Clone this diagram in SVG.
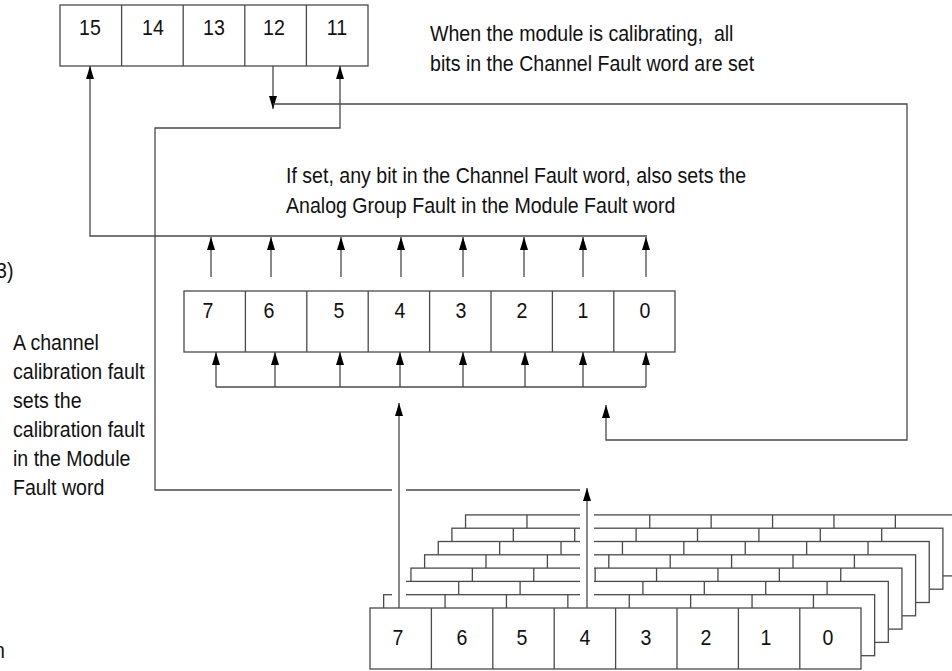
<svg xmlns="http://www.w3.org/2000/svg" xmlns:xlink="http://www.w3.org/1999/xlink" width="952" height="671" viewBox="0 0 952 671">
<style>
  .box { fill: #fff; stroke: #4a4a4a; stroke-width: 1.3; }
  .div { fill: none; stroke: #4a4a4a; stroke-width: 1.3; }
  .conn { fill: none; stroke: #4a4a4a; stroke-width: 1.3; }
  .halo { fill: none; stroke: #fff; stroke-width: 14; }
  text { font-family: "Liberation Sans", Arial, sans-serif; font-size: 22px; fill: #111; }
  .num { text-anchor: middle; }
</style>
<defs>
  <marker id="ah" viewBox="0 0 13 8" markerWidth="13" markerHeight="8" refX="13" refY="4" orient="auto" markerUnits="userSpaceOnUse">
    <path d="M0,0 L13,4 L0,8 z" fill="#000"/>
  </marker>
  <g id="word">
    <rect class="box" x="0" y="0" width="491" height="61"/>
    <path class="div" d="M61.4,0V61M122.8,0V61M184.2,0V61M245.6,0V61M307,0V61M368.4,0V61M429.8,0V61"/>
  </g>
</defs>
<rect width="952" height="671" fill="#fff"/>

<g id="module-fault-word">
  <rect class="box" x="60" y="5" width="308" height="61"/>
  <path class="div" d="M121.6,5V66M183.2,5V66M244.8,5V66M306.4,5V66"/>
  <text class="num" transform="translate(90,35) scale(0.89,1)">15</text>
  <text class="num" transform="translate(153,35) scale(0.89,1)">14</text>
  <text class="num" transform="translate(214,35) scale(0.89,1)">13</text>
  <text class="num" transform="translate(274,35) scale(0.89,1)">12</text>
  <text class="num" transform="translate(337,35) scale(0.89,1)">11</text>
</g>

<g id="channel-fault-word">
  <use xlink:href="#word" x="184" y="291"/>
  <text class="num" transform="translate(208,318) scale(0.89,1)">7</text>
  <text class="num" transform="translate(269,318) scale(0.89,1)">6</text>
  <text class="num" transform="translate(339,318) scale(0.89,1)">5</text>
  <text class="num" transform="translate(400,318) scale(0.89,1)">4</text>
  <text class="num" transform="translate(461,318) scale(0.89,1)">3</text>
  <text class="num" transform="translate(522,318) scale(0.89,1)">2</text>
  <text class="num" transform="translate(583,318) scale(0.89,1)">1</text>
  <text class="num" transform="translate(645,318) scale(0.89,1)">0</text>
</g>

<g id="channel-status-words">
  <use xlink:href="#word" x="465.55" y="514.9"/>
  <use xlink:href="#word" x="451.9" y="528.2"/>
  <use xlink:href="#word" x="438.25" y="541.5"/>
  <use xlink:href="#word" x="424.6" y="554.8"/>
  <use xlink:href="#word" x="410.95" y="568.1"/>
  <use xlink:href="#word" x="397.3" y="581.4"/>
  <use xlink:href="#word" x="383.65" y="594.7"/>
  <use xlink:href="#word" x="370" y="608"/>
  <text class="num" transform="translate(398,645) scale(0.89,1)">7</text>
  <text class="num" transform="translate(462,645) scale(0.89,1)">6</text>
  <text class="num" transform="translate(522,645) scale(0.89,1)">5</text>
  <text class="num" transform="translate(585,645) scale(0.89,1)">4</text>
  <text class="num" transform="translate(646,645) scale(0.89,1)">3</text>
  <text class="num" transform="translate(706,645) scale(0.89,1)">2</text>
  <text class="num" transform="translate(766,645) scale(0.89,1)">1</text>
  <text class="num" transform="translate(828,645) scale(0.89,1)">0</text>
</g>

<g id="connectors">
  <path class="conn" d="M647,236H90V66" marker-end="url(#ah)"/>
  <path class="conn" d="M580,490H155V128H340V66" marker-end="url(#ah)"/>
  <path class="conn" d="M273,66V109" marker-end="url(#ah)"/>
  <path class="conn" d="M273,104H907V440H606V405" marker-end="url(#ah)"/>
  <path class="conn" d="M211,277V237" marker-end="url(#ah)"/>
  <path class="conn" d="M271,277V237" marker-end="url(#ah)"/>
  <path class="conn" d="M341,277V237" marker-end="url(#ah)"/>
  <path class="conn" d="M401,277V237" marker-end="url(#ah)"/>
  <path class="conn" d="M463,277V237" marker-end="url(#ah)"/>
  <path class="conn" d="M524,277V237" marker-end="url(#ah)"/>
  <path class="conn" d="M583,277V237" marker-end="url(#ah)"/>
  <path class="conn" d="M646,277V237" marker-end="url(#ah)"/>
  <path class="conn" d="M216,387H646"/>
  <path class="conn" d="M216,387V352" marker-end="url(#ah)"/>
  <path class="conn" d="M275,387V352" marker-end="url(#ah)"/>
  <path class="conn" d="M340,387V352" marker-end="url(#ah)"/>
  <path class="conn" d="M400,387V352" marker-end="url(#ah)"/>
  <path class="conn" d="M463,387V352" marker-end="url(#ah)"/>
  <path class="conn" d="M525,387V352" marker-end="url(#ah)"/>
  <path class="conn" d="M583,387V352" marker-end="url(#ah)"/>
  <path class="conn" d="M646,387V352" marker-end="url(#ah)"/>
  <path class="halo" d="M399,470V601M587,495V601"/>
  <path class="conn" d="M399,608V403" marker-end="url(#ah)"/>
  <path class="conn" d="M587,608V488" marker-end="url(#ah)"/>
</g>

<g id="labels">
  <text transform="translate(430,41) scale(0.89,1)">When the module is calibrating,&#160; all</text>
  <text transform="translate(430,71) scale(0.89,1)">bits in the Channel Fault word are set</text>
  <text transform="translate(286,183) scale(0.89,1)">If set, any bit in the Channel Fault word, also sets the</text>
  <text transform="translate(286,213) scale(0.89,1)">Analog Group Fault in the Module Fault word</text>
  <text transform="translate(13,350) scale(0.89,1)">A channel</text>
  <text transform="translate(13,379) scale(0.89,1)">calibration fault</text>
  <text transform="translate(13,408) scale(0.89,1)">sets the</text>
  <text transform="translate(13,437) scale(0.89,1)">calibration fault</text>
  <text transform="translate(13,466) scale(0.89,1)">in the Module</text>
  <text transform="translate(13,495) scale(0.89,1)">Fault word</text>
  <text transform="translate(-4,278) scale(0.89,1)">3)</text>
  <text transform="translate(-6,658) scale(0.89,1)">n</text>
</g>
</svg>
